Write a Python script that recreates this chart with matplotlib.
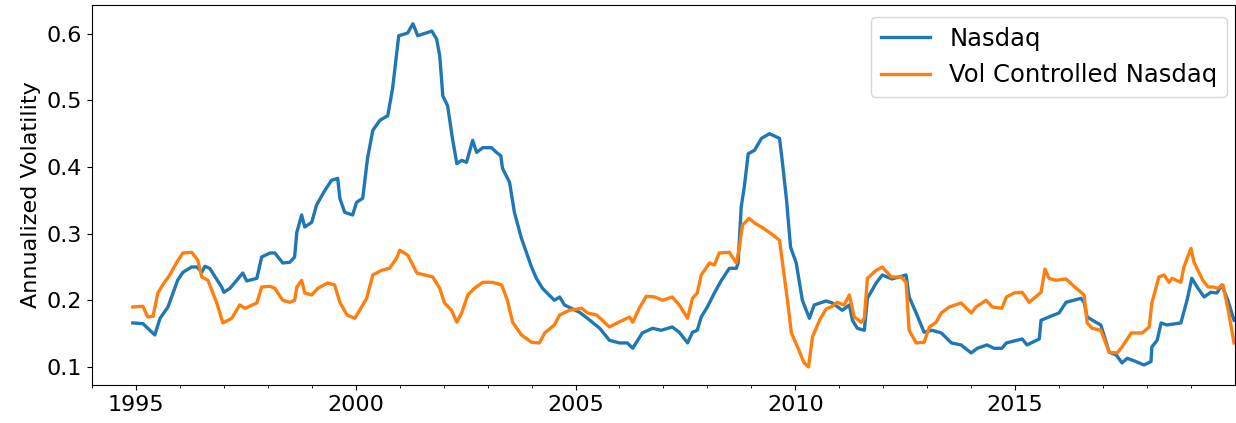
import matplotlib
matplotlib.use("Agg")
import matplotlib.pyplot as plt
import matplotlib.dates as mdates
import pandas as pd

# rolling annualized volatility, knots as (decimal year, value)
nasdaq_years = [1994.93, 1995.16, 1995.43, 1995.55, 1995.73, 1995.95, 1996.07, 1996.27, 1996.39, 1996.50,
                1996.57, 1996.68, 1996.95, 1997.00, 1997.14, 1997.43, 1997.52, 1997.75, 1997.86, 1998.05,
                1998.16, 1998.34, 1998.50, 1998.61, 1998.66, 1998.77, 1998.84, 1999.00, 1999.11, 1999.30,
                1999.45, 1999.59, 1999.64, 1999.75, 1999.93, 2000.02, 2000.16, 2000.27, 2000.39, 2000.55,
                2000.73, 2000.84, 2000.98, 2001.18, 2001.30, 2001.41, 2001.73, 2001.84, 2001.91, 2001.98,
                2002.09, 2002.20, 2002.30, 2002.41, 2002.52, 2002.66, 2002.75, 2002.89, 2003.09, 2003.20,
                2003.30, 2003.34, 2003.50, 2003.61, 2003.77, 2004.00, 2004.11, 2004.25, 2004.52, 2004.64,
                2004.75, 2005.09, 2005.27, 2005.55, 2005.77, 2006.00, 2006.18, 2006.30, 2006.52, 2006.75,
                2006.95, 2007.20, 2007.36, 2007.55, 2007.66, 2007.77, 2007.86, 2008.00, 2008.16, 2008.32,
                2008.50, 2008.66, 2008.70, 2008.77, 2008.84, 2008.93, 2009.07, 2009.23, 2009.41, 2009.64,
                2009.70, 2009.80, 2009.89, 2010.02, 2010.16, 2010.32, 2010.43, 2010.70, 2010.84, 2011.07,
                2011.23, 2011.30, 2011.41, 2011.57, 2011.64, 2011.84, 2011.98, 2012.20, 2012.36, 2012.52,
                2012.59, 2012.75, 2012.93, 2013.11, 2013.32, 2013.55, 2013.77, 2014.00, 2014.14, 2014.36,
                2014.52, 2014.70, 2014.80, 2014.98, 2015.16, 2015.27, 2015.55, 2015.59, 2015.77, 2016.00,
                2016.16, 2016.50, 2016.57, 2016.64, 2016.84, 2016.95, 2017.14, 2017.30, 2017.43, 2017.55,
                2017.75, 2017.93, 2018.09, 2018.11, 2018.23, 2018.32, 2018.45, 2018.77, 2018.91, 2019.02,
                2019.14, 2019.30, 2019.45, 2019.59, 2019.70, 2019.84, 2019.98]
nasdaq_vol = [0.166, 0.165, 0.148, 0.173, 0.190, 0.230, 0.242, 0.250, 0.250, 0.242,
              0.251, 0.248, 0.220, 0.212, 0.218, 0.241, 0.229, 0.233, 0.265, 0.271,
              0.271, 0.256, 0.257, 0.265, 0.302, 0.328, 0.310, 0.317, 0.343, 0.365,
              0.380, 0.383, 0.353, 0.332, 0.328, 0.347, 0.353, 0.413, 0.455, 0.470,
              0.477, 0.518, 0.597, 0.601, 0.615, 0.597, 0.604, 0.592, 0.567, 0.507,
              0.492, 0.443, 0.405, 0.410, 0.407, 0.440, 0.422, 0.429, 0.429, 0.422,
              0.417, 0.398, 0.377, 0.332, 0.293, 0.250, 0.233, 0.218, 0.200, 0.205,
              0.193, 0.182, 0.173, 0.158, 0.140, 0.136, 0.136, 0.128, 0.151, 0.158,
              0.155, 0.160, 0.152, 0.136, 0.152, 0.155, 0.175, 0.190, 0.211, 0.230,
              0.248, 0.248, 0.256, 0.340, 0.370, 0.420, 0.425, 0.443, 0.450, 0.443,
              0.410, 0.350, 0.280, 0.256, 0.200, 0.173, 0.193, 0.199, 0.196, 0.185,
              0.193, 0.170, 0.158, 0.155, 0.203, 0.226, 0.238, 0.232, 0.235, 0.238,
              0.205, 0.181, 0.152, 0.155, 0.151, 0.136, 0.133, 0.121, 0.128, 0.133,
              0.128, 0.128, 0.136, 0.139, 0.142, 0.133, 0.142, 0.170, 0.175, 0.181,
              0.197, 0.203, 0.197, 0.175, 0.167, 0.163, 0.122, 0.118, 0.106, 0.113,
              0.108, 0.103, 0.108, 0.130, 0.140, 0.166, 0.163, 0.166, 0.200, 0.233,
              0.220, 0.205, 0.212, 0.211, 0.223, 0.200, 0.170]

controlled_years = [1994.93, 1995.16, 1995.27, 1995.39, 1995.50, 1995.61, 1995.77, 1995.93, 1996.07, 1996.27,
                    1996.41, 1996.50, 1996.64, 1996.84, 1996.98, 1997.18, 1997.36, 1997.48, 1997.75, 1997.86,
                    1998.05, 1998.16, 1998.34, 1998.50, 1998.61, 1998.66, 1998.77, 1998.84, 1999.00, 1999.14,
                    1999.36, 1999.52, 1999.64, 1999.80, 1999.98, 2000.09, 2000.25, 2000.39, 2000.59, 2000.77,
                    2000.93, 2001.00, 2001.18, 2001.39, 2001.57, 2001.75, 2001.91, 2002.02, 2002.18, 2002.30,
                    2002.41, 2002.55, 2002.70, 2002.89, 2003.11, 2003.32, 2003.45, 2003.57, 2003.77, 2004.00,
                    2004.18, 2004.30, 2004.52, 2004.64, 2004.86, 2005.14, 2005.27, 2005.48, 2005.77, 2005.95,
                    2006.23, 2006.30, 2006.45, 2006.61, 2006.80, 2006.98, 2007.20, 2007.36, 2007.55, 2007.66,
                    2007.77, 2007.86, 2008.05, 2008.16, 2008.27, 2008.50, 2008.66, 2008.73, 2008.80, 2008.95,
                    2009.07, 2009.23, 2009.45, 2009.64, 2009.70, 2009.82, 2009.91, 2010.05, 2010.20, 2010.30,
                    2010.39, 2010.55, 2010.70, 2010.84, 2010.95, 2011.11, 2011.23, 2011.34, 2011.50, 2011.57,
                    2011.64, 2011.84, 2011.98, 2012.18, 2012.41, 2012.52, 2012.59, 2012.75, 2012.93, 2013.05,
                    2013.20, 2013.32, 2013.50, 2013.77, 2014.00, 2014.11, 2014.34, 2014.48, 2014.70, 2014.80,
                    2014.98, 2015.16, 2015.32, 2015.59, 2015.68, 2015.77, 2015.93, 2016.16, 2016.39, 2016.57,
                    2016.64, 2016.75, 2016.95, 2017.14, 2017.32, 2017.43, 2017.64, 2017.89, 2018.05, 2018.11,
                    2018.27, 2018.39, 2018.50, 2018.57, 2018.77, 2018.84, 2019.00, 2019.07, 2019.27, 2019.39,
                    2019.50, 2019.61, 2019.73, 2019.86, 2019.98]
controlled_vol = [0.190, 0.191, 0.175, 0.176, 0.211, 0.223, 0.238, 0.257, 0.271, 0.272,
                  0.260, 0.235, 0.230, 0.196, 0.166, 0.173, 0.193, 0.188, 0.196, 0.220,
                  0.221, 0.218, 0.200, 0.197, 0.200, 0.220, 0.230, 0.211, 0.208, 0.218,
                  0.226, 0.223, 0.197, 0.178, 0.173, 0.185, 0.203, 0.238, 0.245, 0.248,
                  0.263, 0.275, 0.268, 0.241, 0.238, 0.235, 0.218, 0.196, 0.185, 0.167,
                  0.181, 0.208, 0.218, 0.227, 0.227, 0.223, 0.200, 0.167, 0.148, 0.137,
                  0.136, 0.151, 0.163, 0.178, 0.185, 0.188, 0.181, 0.178, 0.160, 0.166,
                  0.175, 0.167, 0.188, 0.206, 0.205, 0.200, 0.205, 0.193, 0.173, 0.203,
                  0.211, 0.238, 0.256, 0.253, 0.271, 0.272, 0.256, 0.280, 0.313, 0.323,
                  0.316, 0.310, 0.300, 0.290, 0.260, 0.200, 0.151, 0.130, 0.106, 0.100,
                  0.145, 0.170, 0.187, 0.191, 0.197, 0.193, 0.208, 0.175, 0.167, 0.173,
                  0.233, 0.245, 0.250, 0.235, 0.235, 0.227, 0.155, 0.136, 0.137, 0.160,
                  0.167, 0.181, 0.190, 0.196, 0.181, 0.190, 0.200, 0.190, 0.188, 0.205,
                  0.211, 0.212, 0.197, 0.212, 0.247, 0.233, 0.230, 0.232, 0.218, 0.208,
                  0.166, 0.158, 0.155, 0.122, 0.121, 0.130, 0.151, 0.151, 0.160, 0.196,
                  0.235, 0.238, 0.227, 0.233, 0.227, 0.250, 0.278, 0.257, 0.230, 0.220,
                  0.220, 0.218, 0.223, 0.181, 0.136]


def to_dates(years):
    out = []
    for y in years:
        yr = int(y)
        out.append(pd.Timestamp(yr, 1, 1) + pd.Timedelta(days=(y - yr) * 365.25))
    return out


fig, ax = plt.subplots(figsize=(12.36, 4.23), dpi=100)
fig.subplots_adjust(left=0.0744, right=0.999, top=0.988, bottom=0.09)

ax.plot(to_dates(nasdaq_years), nasdaq_vol, color='#1f77b4', linewidth=2.4, label='Nasdaq')
ax.plot(to_dates(controlled_years), controlled_vol, color='#ff7f0e', linewidth=2.4,
        label='Vol Controlled Nasdaq')

ax.set_xlim(pd.Timestamp(1994, 1, 1), pd.Timestamp(2019, 12, 31))
ax.set_ylim(0.073, 0.643)
ax.xaxis.set_major_locator(mdates.YearLocator(5))
ax.xaxis.set_minor_locator(mdates.YearLocator(1))
ax.xaxis.set_major_formatter(mdates.DateFormatter('%Y'))
ax.tick_params(axis='both', which='major', labelsize=16)
ax.set_ylabel('Annualized Volatility', fontsize=16)
ax.legend(loc='upper right', fontsize=17.5, bbox_to_anchor=(1.004, 1.0))

plt.savefig('out.png', dpi=100)
plt.close()
